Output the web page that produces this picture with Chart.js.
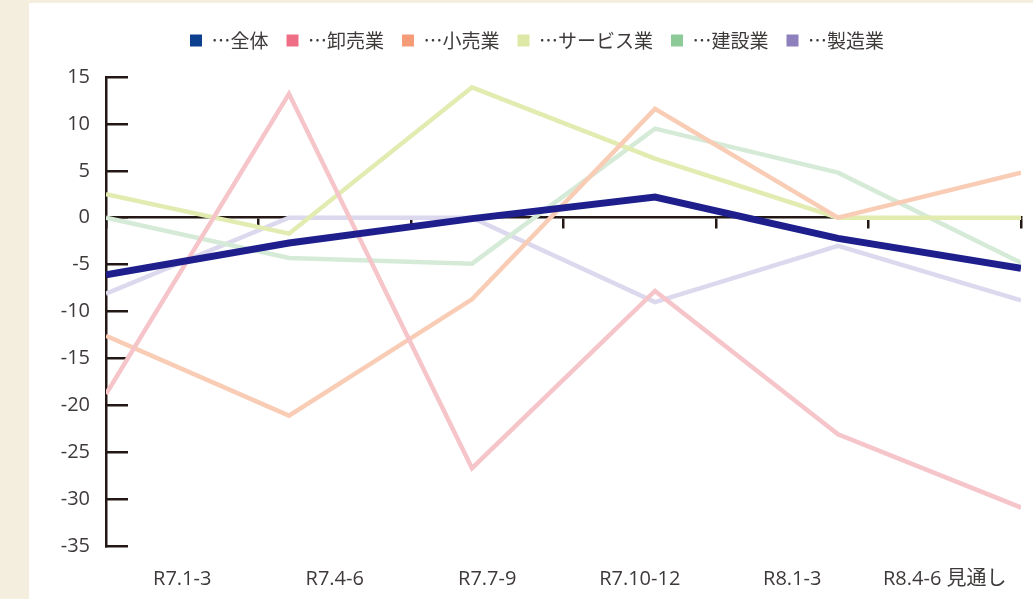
<!DOCTYPE html>
<html>
<head>
  <meta charset="utf-8">
  <title>業種別推移</title>
  <style>
    body { margin: 0; background: #f4eedf; width: 1033px; height: 599px; overflow: hidden; }
    #panel { position: absolute; left: 29px; top: 3px; width: 1004px; height: 596px; background: #fff; }
  </style>
</head>
<body>
  <div id="panel"><canvas id="trendChart"></canvas></div>

  <script src="https://cdn.jsdelivr.net/npm/chart.js"></script>
  <script>
    // periods on the x axis
    const periods = ['R7.1-3', 'R7.4-6', 'R7.7-9', 'R7.10-12', 'R8.1-3', 'R8.4-6 見通し'];

    // series values
    const zentai    = [-6.1, -2.7, -0.1, 2.2, -2.2, -5.4];
    const oroshi    = [-18.8, 13.2, -26.7, -7.8, -23.1, -30.9];
    const kouri     = [-12.6, -21.1, -8.7, 11.6, 0, 4.8];
    const service   = [2.5, -1.7, 13.9, 6.3, 0, 0];
    const kensetsu  = [0, -4.3, -4.9, 9.5, 4.8, -4.8];
    const seizou    = [-8.1, 0, 0, -9.0, -3.0, -8.8];

    const seriesNames = ['全体', '卸売業', '小売業', 'サービス業', '建設業', '製造業'];
    const seriesValues = [zentai, oroshi, kouri, service, kensetsu, seizou];

    // y axis range
    const yMin = -35, yMax = 15, yStep = 5;

    const lineColors = ['#1e1f8c', '#f5c5c9', '#f9cdb5', '#e2ebb0', '#d5ebd7', '#dcd9ee'];
    const boxColors  = ['#0d3f8f', '#ee6e86', '#f49c78', '#dde8a7', '#8ccb98', '#8e7fbd'];
    const lineWidths = [7, 4.5, 4.5, 4.5, 4.5, 4.5];

    const axisColor = '#231815';
    const textColor = '#3e3a39';
    const numFont = "'Open Sans', 'Noto Sans CJK JP', sans-serif";

    const datasets = seriesNames.map((name, i) => ({
      label: '…' + name,
      data: seriesValues[i].map((v, k) => ({ x: k, y: v })),
      xAxisID: 'xd',
      borderColor: lineColors[i],
      backgroundColor: boxColors[i],
      borderWidth: lineWidths[i],
      pointRadius: 0,
      tension: 0,
      fill: false
    }));

    // push the plot down below the legend, and nudge the legend right a bit
    const legendGap = {
      id: 'legendGap',
      beforeInit(chart) {
        const fit = chart.legend.fit;
        chart.legend.fit = function () {
          fit.call(this);
          this.height += 17;
        };
      },
      afterLayout(chart) {
        chart.legend.left += 12;
        chart.legend.right += 12;
      }
    };

    new Chart(document.getElementById('trendChart'), {
      type: 'line',
      data: { labels: periods, datasets: datasets },
      plugins: [legendGap],
      options: {
        responsive: true,
        maintainAspectRatio: false,
        animation: false,
        layout: { padding: { top: 10, left: 0, right: 12, bottom: 0 } },
        plugins: {
          tooltip: { enabled: false },
          legend: {
            position: 'top',
            labels: {
              boxWidth: 12,
              boxHeight: 12,
              padding: 18,
              color: textColor,
              font: { family: "'Noto Sans CJK JP', sans-serif", size: 19 },
              generateLabels: chart => chart.data.datasets.map((ds, i) => ({
                text: ds.label,
                fillStyle: boxColors[i],
                strokeStyle: boxColors[i],
                lineWidth: 0,
                fontColor: textColor,
                datasetIndex: i,
                hidden: false
              }))
            }
          }
        },
        scales: {
          xd: {
            type: 'linear',
            min: 0,
            max: periods.length - 1,
            display: false
          },
          x: {
            type: 'category',
            position: 'bottom',
            offset: true,
            grid: { display: false, drawTicks: false },
            border: { display: false },
            ticks: { color: textColor, padding: 21, font: { family: numFont, size: 20 }, maxRotation: 0 },
            afterFit: s => { s.height = 53; }
          },
          x0: {
            type: 'category',
            labels: periods,
            position: { y: 0 },
            offset: true,
            grid: { display: true, drawOnChartArea: false, drawTicks: true, tickLength: 10, color: axisColor, lineWidth: 2.5, offset: true },
            border: { display: true, color: axisColor, width: 2.5 },
            ticks: { display: false }
          },
          y: {
            min: yMin,
            max: yMax,
            ticks: { stepSize: yStep, color: textColor, padding: 38, font: { family: numFont, size: 20 } },
            grid: { display: true, drawOnChartArea: false, drawTicks: true, tickLength: -22, color: axisColor, lineWidth: 2.5 },
            border: { display: true, color: axisColor, width: 2.5 },
            afterFit: s => { s.width = 77; }
          }
        }
      }
    });
  </script>
</body>
</html>
